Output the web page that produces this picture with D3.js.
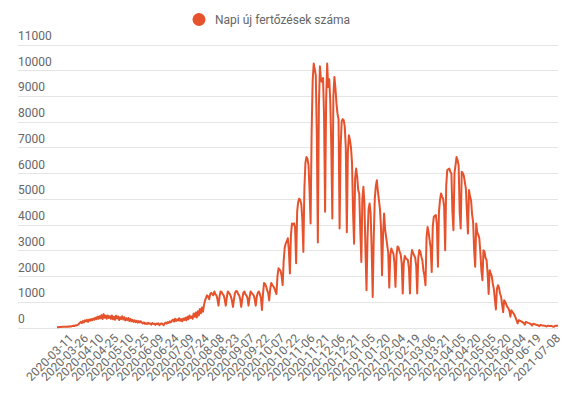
<!DOCTYPE html>
<html>
<head>
<meta charset="utf-8">
<script src="https://cdn.jsdelivr.net/npm/d3@7"></script>
<style>
  body { margin: 0; background: #fff; }
  svg { display: block; font-family: Roboto, sans-serif; }
</style>
</head>
<body>
<svg id="chart" width="575" height="397"></svg>
<script>
const seriesName = 'Napi új fertőzések száma';
const startDate = '2020-03-11';

// daily new cases, one array per month
const mar20 = [10, 12, 15, 15, 20, 25, 25, 30, 25, 30, 35, 30, 40, 45, 40, 60, 70, 60, 85, 80, 100];
const apr20 = [130, 180, 220, 170, 250, 200, 280, 240, 300, 220, 310, 260, 330, 280, 350, 300, 380, 320, 420, 340, 440, 360, 480, 330, 520, 380, 460, 340, 470, 370];
const may20 = [440, 340, 470, 320, 420, 300, 460, 350, 430, 290, 400, 330, 440, 310, 400, 270, 360, 290, 370, 250, 330, 240, 300, 220, 280, 210, 260, 190, 250, 200, 240];
const jun20 = [190, 160, 200, 140, 170, 130, 180, 150, 160, 110, 170, 140, 150, 100, 150, 130, 160, 90, 140, 160, 130, 90, 160, 190, 150, 210, 180, 240, 200, 260];
const jul20 = [300, 230, 340, 250, 320, 270, 360, 260, 330, 240, 350, 290, 380, 280, 420, 320, 470, 370, 430, 340, 540, 420, 580, 390, 630, 470, 720, 550, 780, 610, 870];
const aug20 = [1050, 1150, 1250, 1200, 1100, 1300, 1350, 1300, 1250, 1400, 1300, 1250, 1100, 850, 1200, 1400, 1380, 1300, 1250, 1100, 850, 1150, 1400, 1350, 1300, 1200, 1050, 800, 1100, 1350, 1420];
const sep20 = [1400, 1300, 1250, 1100, 800, 1100, 1350, 1400, 1300, 1250, 1150, 850, 1150, 1400, 1350, 1300, 1250, 1100, 850, 1200, 1350, 1400, 1300, 1150, 680, 1300, 1730, 1700, 1600, 1450];
const oct20 = [1350, 1050, 1500, 1730, 1650, 1600, 1530, 1400, 1300, 2000, 2300, 2250, 2200, 2000, 1650, 2600, 3100, 3270, 3350, 3470, 3000, 2100, 3600, 4040, 4000, 4050, 3900, 2500, 4500, 4880, 5010];
const nov20 = [4950, 4800, 4200, 2940, 5400, 6400, 6630, 6550, 6300, 5300, 4040, 7600, 9600, 10260, 10050, 9800, 7500, 3300, 8600, 10150, 9600, 9550, 9700, 8200, 4500, 8800, 10260, 9350, 9650, 8800];
const dec20 = [7000, 4240, 9000, 9740, 9300, 8700, 8300, 8100, 3850, 7000, 8000, 8100, 8060, 7800, 7000, 3700, 6800, 7470, 7280, 7000, 6400, 4500, 3260, 5800, 6180, 5860, 5340, 5200, 3800, 2550, 5000];
const jan21 = [5470, 4800, 3000, 1450, 3500, 4600, 4820, 4430, 3000, 1190, 3500, 5000, 5500, 5720, 5300, 4950, 4600, 3900, 2030, 3600, 4430, 3800, 3500, 3200, 2900, 1550, 2800, 3070, 2950, 2880, 2500];
const feb21 = [1580, 2800, 3150, 3100, 2950, 2840, 2500, 1320, 2500, 2780, 2700, 2650, 2620, 2300, 1320, 2700, 3010, 2900, 2800, 2720, 2400, 1320, 2700, 3010, 2950, 2750, 2600, 2200];
const mar21 = [2000, 1640, 3500, 3910, 3700, 3390, 3100, 2160, 3900, 4300, 4350, 4370, 4000, 2360, 4500, 4950, 5210, 5100, 5000, 4700, 3000, 5500, 6110, 6150, 6180, 6050, 6000, 4500, 3780, 6000, 6300];
const apr21 = [6630, 6500, 6300, 4500, 3850, 6050, 6000, 5900, 5660, 5400, 4500, 3650, 5340, 5100, 4950, 4400, 4100, 3000, 2360, 4040, 3700, 3600, 3460, 2900, 2200, 1840, 3000, 2950, 2700, 2620];
const may21 = [2100, 1300, 2230, 2100, 2000, 1710, 1500, 1100, 700, 1500, 1640, 1550, 1320, 1200, 900, 600, 1060, 1000, 900, 800, 750, 650, 420, 670, 600, 550, 480, 380, 280, 160, 280];
const jun21 = [270, 250, 230, 200, 170, 110, 220, 200, 180, 170, 150, 120, 80, 150, 140, 120, 110, 100, 80, 50, 100, 90, 80, 75, 70, 55, 40, 70, 65, 60];
const jul21 = [60, 55, 40, 30, 60, 70, 65, 80];

const yTicks = [0, 1000, 2000, 3000, 4000, 5000, 6000, 7000, 8000, 9000, 10000, 11000];

const values = [].concat(mar20, apr20, may20, jun20, jul20, aug20, sep20, oct20,
  nov20, dec20, jan21, feb21, mar21, apr21, may21, jun21, jul21);

const parse = d3.utcParse('%Y-%m-%d');
const fmt = d3.utcFormat('%Y-%m-%d');
const t0 = parse(startDate);
const dates = d3.utcDay.range(t0, d3.utcDay.offset(t0, values.length)).map(fmt);
const data = dates.map((d, i) => ({date: d, value: values[i]}));

const color = '#e6522c';
const textColor = '#666';

const svg = d3.select('#chart');

const x = d3.scalePoint()
  .domain(dates)
  .range([57, 558]);

// the rotated labels sit on a slightly narrower band than the line
const xLabel = d3.scalePoint()
  .domain(dates)
  .range([71, 558]);

const y = d3.scaleLinear()
  .domain([0, 11000])
  .range([327.5, 44.5]);

// legend
const legend = svg.append('g').attr('class', 'legend');
legend.append('circle')
  .attr('cx', 199)
  .attr('cy', 19.5)
  .attr('r', 6.5)
  .attr('fill', color);
legend.append('text')
  .attr('x', 215)
  .attr('y', 23.5)
  .attr('fill', textColor)
  .attr('font-size', 12)
  .text(seriesName);

// y grid + labels sitting above each line
svg.append('g')
  .attr('class', 'y-axis')
  .attr('transform', 'translate(18,0)')
  .call(d3.axisRight(y).tickValues(yTicks).tickSize(558 - 18).tickFormat(d3.format('d')))
  .call(g => g.select('.domain').remove())
  .call(g => g.selectAll('.tick line')
    .attr('stroke', '#e5e5e5')
    .attr('shape-rendering', 'crispEdges'))
  .call(g => g.selectAll('.tick text')
    .attr('x', 0)
    .attr('dy', -5)
    .attr('fill', textColor)
    .attr('font-size', 12)
    .attr('font-family', 'Roboto, sans-serif'));

// x labels: every 15th day, last one always shown
const n = dates.length;
const xTicks = dates.filter((d, i) => (i % 15 === 0 && i + 15 < n) || i === n - 1);

svg.append('g')
  .attr('class', 'x-axis')
  .selectAll('text')
  .data(xTicks)
  .enter().append('text')
    .attr('transform', d => `translate(${xLabel(d)},${336}) rotate(-45)`)
    .attr('text-anchor', 'end')
    .attr('dy', '0.35em')
    .attr('fill', textColor)
    .attr('font-size', 12)
    .text(d => d);

const line = d3.line()
  .x(d => x(d.date))
  .y(d => y(d.value));

svg.append('path')
  .datum(data)
  .attr('fill', 'none')
  .attr('stroke', color)
  .attr('stroke-width', 2)
  .attr('stroke-linejoin', 'round')
  .attr('d', line);
</script>
</body>
</html>
